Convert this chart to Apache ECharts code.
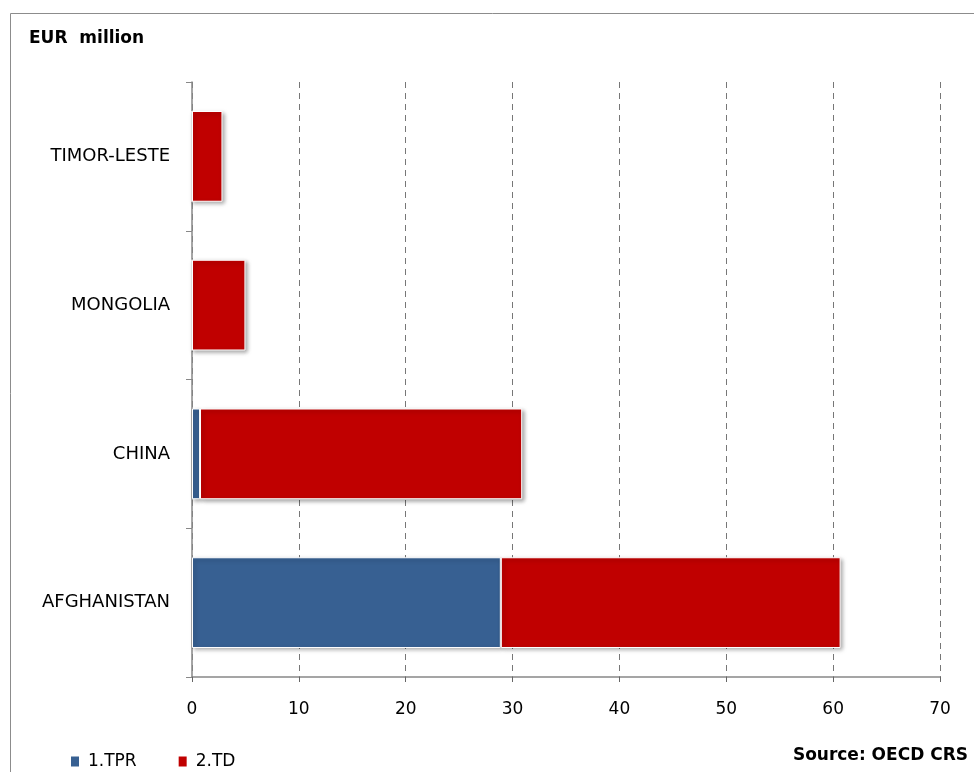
<!DOCTYPE html>
<html><head><meta charset="utf-8">
<script src="https://cdn.jsdelivr.net/npm/echarts@6/dist/echarts.min.js"></script>
<style>html,body{margin:0;padding:0;background:#fff}#c{width:974px;height:772px}</style>
</head><body><div id="c"></div>
<script>
const categories = ['AFGHANISTAN', 'CHINA', 'MONGOLIA', 'TIMOR-LESTE'];
const tprValues = [28.9, 0.75, 0, 0];
const tdValues = [31.8, 30.15, 5.0, 2.85];
const seriesNames = ['1.TPR', '2.TD'];
const xTicks = [0, 10, 20, 30, 40, 50, 60, 70];

const FONT = 'DejaVu Sans';
const chart = echarts.init(document.getElementById('c'), null, {renderer: 'canvas'});
const barStyle = (color) => ({
  color: color, borderColor: '#fff', borderWidth: 1,
  shadowColor: 'rgba(0,0,0,0.35)', shadowBlur: 4, shadowOffsetX: 2, shadowOffsetY: 2
});
chart.setOption({
  animation: false,
  graphic: [
    {type: 'rect', shape: {x: 10.5, y: 13.5, width: 980, height: 780}, style: {fill: 'none', stroke: '#8c8c8c', lineWidth: 1}},
    {type: 'text', left: 29, top: 30, style: {text: 'EUR  million', font: 'bold 17px "' + FONT + '"', fill: '#000'}},
    {type: 'text', right: 6, top: 747, style: {text: 'Source: OECD CRS', font: 'bold 17px "' + FONT + '"', fill: '#000'}}
  ],
  legend: {
    left: 64, top: 748, itemWidth: 10, itemHeight: 12, itemGap: 40, icon: 'rect',
    textStyle: {fontFamily: FONT, fontSize: 17, color: '#000', padding: [0, 0, 0, 3]},
    data: seriesNames
  },
  grid: {left: 192, right: 34, top: 82, bottom: 95, containLabel: false},
  xAxis: {
    type: 'value', min: xTicks[0], max: xTicks[xTicks.length - 1], interval: 10,
    axisLine: {show: true, lineStyle: {color: '#888', width: 1.5}},
    axisTick: {show: true, length: 9, lineStyle: {color: '#666', type: [5, 4]}},
    axisLabel: {fontFamily: FONT, fontSize: 17, color: '#000', margin: 24},
    splitLine: {show: true, lineStyle: {color: '#777', type: [6, 5], width: 1}}
  },
  yAxis: {
    type: 'category', data: categories,
    axisLine: {show: true, lineStyle: {color: '#888', width: 1.5}},
    axisTick: {show: true, length: 6, lineStyle: {color: '#888'}},
    axisLabel: {fontFamily: FONT, fontSize: 18, color: '#000', margin: 22}
  },
  series: [
    {name: seriesNames[0], type: 'bar', stack: 'a', data: tprValues, barWidth: '61%', itemStyle: barStyle('#376092')},
    {name: seriesNames[1], type: 'bar', stack: 'a', data: tdValues, barWidth: '61%', itemStyle: barStyle('#C00000')}
  ]
});
</script></body></html>
